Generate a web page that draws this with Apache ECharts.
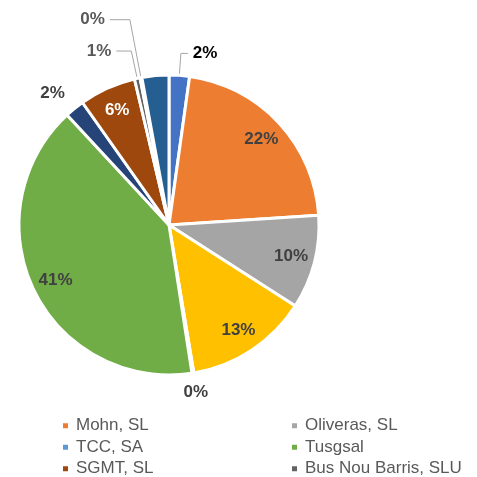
<!DOCTYPE html>
<html>
<head>
<meta charset="utf-8">
<script src="https://cdn.jsdelivr.net/npm/echarts@6/dist/echarts.min.js"></script>
<style>html,body{margin:0;padding:0;background:#fff;}#c{width:477px;height:477px;}</style>
</head>
<body>
<div id="c"></div>
<script>
// ---- data ----
const sliceNames = ['Otros A', 'Mohn, SL', 'Oliveras, SL', 'Otros B', 'TCC, SA', 'Tusgsal', 'Otros C', 'SGMT, SL', 'Bus Nou Barris, SLU', 'Otros D', 'Otros E'];
const sliceValues = [2.2, 21.8, 10.1, 13.3, 0.2, 40.6, 2.1, 6.1, 0.6, 0.2, 2.9];
const legendLeft = ['Mohn, SL', 'TCC, SA', 'SGMT, SL'];
const legendRight = ['Oliveras, SL', 'Tusgsal', 'Bus Nou Barris, SLU'];

// ---- styles ----
const sliceColors = ['#4472C4', '#ED7D31', '#A5A5A5', '#FFC000', '#5B9BD5', '#70AD47', '#264478', '#9E480E', '#636363', '#997300', '#255E91'];
const insideLabels = {1: '#404040', 2: '#404040', 3: '#404040', 5: '#404040', 7: '#ffffff'};
// outside label: [length, length2, showLine, color, nudgeX]
const outsideLabels = {
  0: [22, 7, true, '#000000', 0],
  4: [19.5, 0, false, '#404040', -17.5],
  6: [19.6, 0, false, '#404040', 7.7],
  8: [28, 15, true, '#595959', 0],
  9: [59, 20, true, '#595959', 0]
};
const FONT = 'Liberation Sans, Arial, sans-serif';
const CENTER = [169, 225];
const R = 150;

const fmt = p => Math.round(p.value) + '%';

const mainData = sliceNames.map((n, i) => {
  const o = outsideLabels[i];
  return {
    name: n,
    value: sliceValues[i],
    itemStyle: {color: sliceColors[i]},
    label: o ? {show: true, color: o[3]} : {show: false},
    labelLine: o ? {show: o[2], length: o[0], length2: o[1]} : {show: false}
  };
});
const innerData = sliceNames.map((n, i) => ({
  name: n,
  value: sliceValues[i],
  label: insideLabels[i] ? {show: true, color: insideLabels[i]} : {show: false}
}));

const chart = echarts.init(document.getElementById('c'), null, {renderer: 'canvas'});
const legendBase = {
  orient: 'vertical',
  top: 415,
  height: 80,
  padding: 0,
  itemWidth: 7,
  itemHeight: 7,
  itemGap: 0,
  icon: 'rect',
  selectedMode: false,
  textStyle: {fontFamily: FONT, fontSize: 17, color: '#595959', lineHeight: 21.5, padding: [0, 0, 0, 2]}
};
chart.setOption({
  animation: false,
  backgroundColor: '#ffffff',
  legend: [
    Object.assign({}, legendBase, {left: 61, data: legendLeft}),
    Object.assign({}, legendBase, {left: 290, data: legendRight})
  ],
  series: [
    {
      type: 'pie',
      center: CENTER,
      radius: [0, R],
      startAngle: 90,
      clockwise: true,
      avoidLabelOverlap: false,
      silent: true,
      itemStyle: {borderColor: '#ffffff', borderWidth: 3},
      label: {position: 'outside', formatter: fmt, fontFamily: FONT, fontSize: 17, fontWeight: 'bold', distanceToLabelLine: 5},
      labelLine: {lineStyle: {color: '#A6A6A6', width: 1}, smooth: false},
      labelLayout: function (p) {
        const o = outsideLabels[p.dataIndex];
        if (o && o[4]) return {dx: o[4]};
        return {};
      },
      data: mainData
    },
    {
      type: 'pie',
      center: CENTER,
      radius: [96, R],
      startAngle: 90,
      clockwise: true,
      silent: true,
      avoidLabelOverlap: false,
      itemStyle: {color: 'rgba(0,0,0,0)', borderWidth: 0},
      label: {position: 'inside', formatter: fmt, fontFamily: FONT, fontSize: 17, fontWeight: 'bold'},
      labelLine: {show: false},
      emphasis: {disabled: true},
      data: innerData
    }
  ]
});
</script>
</body>
</html>
